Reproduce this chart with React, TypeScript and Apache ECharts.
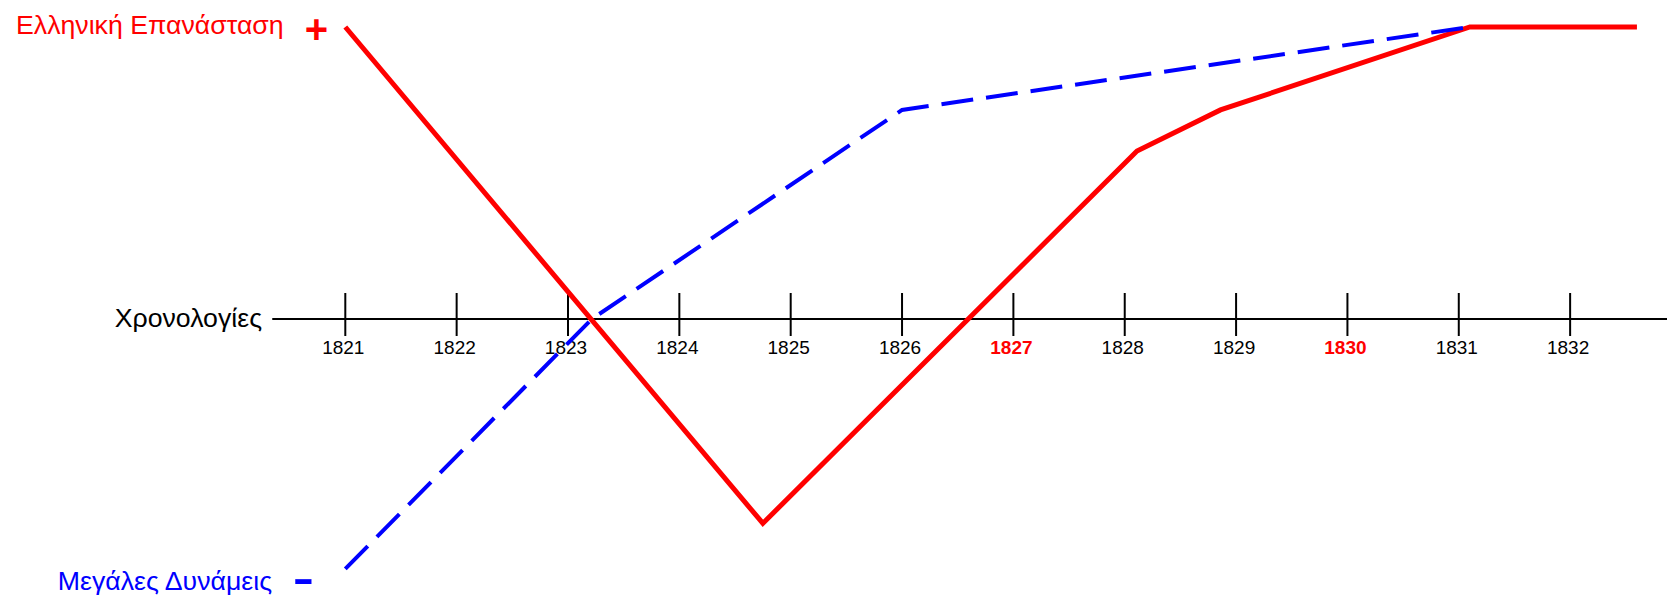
import React, { useEffect, useRef } from "react";
import * as echarts from "echarts";

const years = [1821, 1822, 1823, 1824, 1825, 1826, 1827, 1828, 1829, 1830, 1831, 1832];
const highlightedYears = [1827, 1830];

const revolutionYears = [1821, 1824.75, 1828.11, 1828.86, 1831.1, 1832.6];
const revolutionValues = [100, -70, 57.5, 71.6, 100, 100];

const powersYears = [1821, 1823.215, 1826.0, 1831.1];
const powersValues = [-85.6, 0, 71.6, 100];

const revolutionLabel = "Ελληνική Επανάσταση";
const powersLabel = "Μεγάλες Δυνάμεις";
const axisName = "Χρονολογίες";

export default function App() {
  const ref = useRef<HTMLDivElement>(null);

  useEffect(() => {
    if (!ref.current) return;
    const chart = echarts.init(ref.current, null, { renderer: "svg" });
    const font = "'Liberation Sans', Arial, sans-serif";

    const option: any = {
      animation: false,
      backgroundColor: "#ffffff",
      grid: {
        left: 273,
        right: 0,
        top: 27,
        bottom: 0,
        containLabel: false,
        outerBoundsMode: "none",
      },
      xAxis: {
        type: "value",
        min: 1820.3507,
        max: 1832.87,
        splitLine: { show: false },
        axisLine: { show: true, onZero: true, lineStyle: { color: "#000", width: 2 } },
        axisTick: { show: false },
        axisLabel: { show: false },
      },
      yAxis: {
        type: "value",
        min: -95.9,
        max: 100,
        show: false,
        splitLine: { show: false },
      },
      series: [
        {
          type: "custom",
          silent: true,
          clip: false,
          data: years.map((y) => [y, 0]),
          renderItem: (params: any, api: any) => {
            const year = api.value(0);
            const p = api.coord([year, 0]);
            const hi = highlightedYears.includes(year);
            return {
              type: "group",
              children: [
                {
                  type: "line",
                  shape: { x1: p[0], y1: p[1] - 26, x2: p[0], y2: p[1] + 17 },
                  style: { stroke: "#000", lineWidth: 2 },
                },
                {
                  type: "text",
                  x: p[0] - 2,
                  y: p[1] + 29,
                  style: {
                    text: String(year),
                    fill: hi ? "#ff0000" : "#000",
                    font: `${hi ? "bold " : ""}19px ${font}`,
                    align: "center",
                    verticalAlign: "middle",
                  },
                },
              ],
            };
          },
          z: 1,
        },
        {
          type: "line",
          name: revolutionLabel,
          data: revolutionYears.map((y, i) => [y, revolutionValues[i]]),
          showSymbol: false,
          clip: false,
          lineStyle: { color: "#ff0000", width: 5, join: "miter", cap: "butt" },
          z: 2,
        },
        {
          type: "line",
          name: powersLabel,
          data: powersYears.map((y, i) => [y, powersValues[i]]),
          showSymbol: false,
          clip: false,
          lineStyle: { color: "#0000ff", width: 4, type: [32, 13], join: "miter", cap: "butt" },
          z: 3,
        },
      ],
      graphic: [
        {
          type: "text",
          x: 16,
          y: 25,
          style: {
            text: revolutionLabel,
            fill: "#ff0000",
            font: `26.7px ${font}`,
            align: "left",
            verticalAlign: "middle",
          },
        },
        {
          type: "text",
          x: 316.5,
          y: 29,
          style: {
            text: "+",
            fill: "#ff0000",
            font: `bold 40px ${font}`,
            align: "center",
            verticalAlign: "middle",
          },
        },
        {
          type: "text",
          x: 262,
          y: 318,
          style: {
            text: axisName,
            fill: "#000",
            font: `26.7px ${font}`,
            align: "right",
            verticalAlign: "middle",
          },
        },
        {
          type: "text",
          x: 272,
          y: 581,
          style: {
            text: powersLabel,
            fill: "#0000ff",
            font: `26.7px ${font}`,
            align: "right",
            verticalAlign: "middle",
          },
        },
        {
          type: "text",
          x: 303.5,
          y: 578,
          scaleX: 1.6,
          style: {
            text: "-",
            fill: "#0000ff",
            font: `bold 40px ${font}`,
            align: "center",
            verticalAlign: "middle",
          },
        },
      ],
    };

    chart.setOption(option);
    return () => chart.dispose();
  }, []);

  return (
    <div
      ref={ref}
      style={{ position: "absolute", left: 0, top: 0, width: 1667, height: 599 }}
    />
  );
}
